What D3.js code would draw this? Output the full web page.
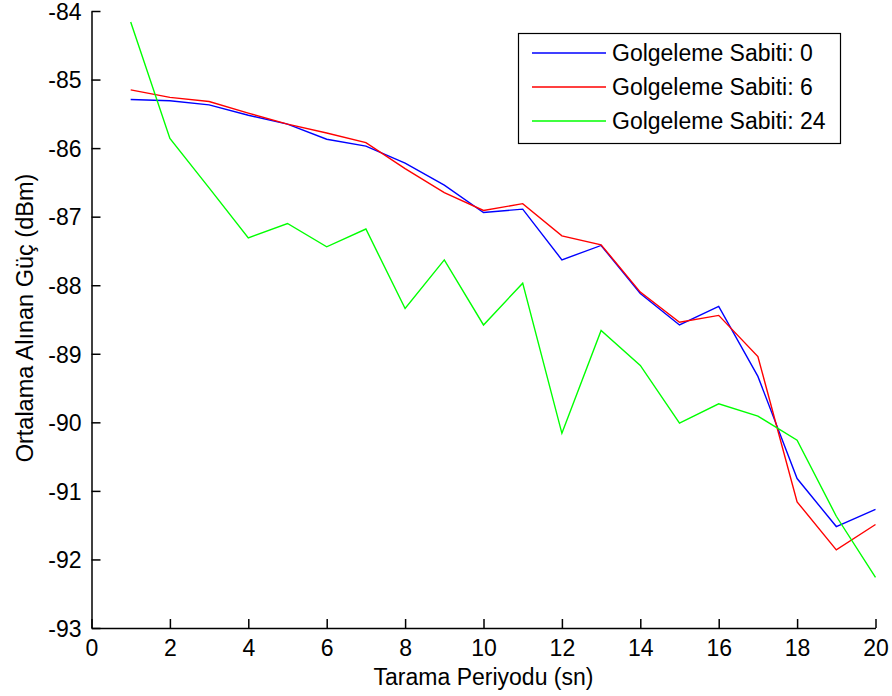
<!DOCTYPE html>
<html>
<head>
<meta charset="utf-8">
<script src="https://cdn.jsdelivr.net/npm/d3@7"></script>
<style>
  body { margin: 0; background: #fff; }
  svg { display: block; }
  text { font-family: "Liberation Sans", Arial, sans-serif; fill: #000; }
</style>
</head>
<body>
<svg id="chart" width="892" height="696"></svg>
<script>
const periods = [1,2,3,4,5,6,7,8,9,10,11,12,13,14,15,16,17,18,19,20];
const seriesNames = ["Golgeleme Sabiti: 0", "Golgeleme Sabiti: 6", "Golgeleme Sabiti: 24"];
const seriesColors = ["#0000ff", "#ff0000", "#00ff00"];
const shadow0 = [-85.29,-85.31,-85.37,-85.52,-85.65,-85.87,-85.97,-86.22,-86.54,-86.94,-86.89,-87.63,-87.42,-88.12,-88.58,-88.31,-89.33,-90.82,-91.52,-91.27];
const shadow6 = [-85.15,-85.26,-85.32,-85.49,-85.65,-85.78,-85.92,-86.30,-86.65,-86.91,-86.81,-87.28,-87.41,-88.10,-88.54,-88.44,-89.04,-91.16,-91.86,-91.49];
const shadow24 = [-84.16,-85.86,-86.58,-87.31,-87.10,-87.44,-87.18,-88.34,-87.63,-88.58,-87.97,-90.16,-88.66,-89.17,-90.01,-89.73,-89.91,-90.26,-91.37,-92.26];
const xTicks = [0,2,4,6,8,10,12,14,16,18,20];
const yTicks = [-84,-85,-86,-87,-88,-89,-90,-91,-92,-93];
const xLabel = "Tarama Periyodu (sn)";
const yLabel = "Ortalama Alınan Güç (dBm)";

const svg = d3.select("#chart");
const mLeft = 91.5, mRight = 875.5, mTop = 11, mBottom = 628;
const x = d3.scaleLinear().domain([0, 20]).range([mLeft, mRight]);
const y = d3.scaleLinear().domain([-93, -84]).range([mBottom, mTop]);
const fmt = d => String(d);

// axes
const xAxis = d3.axisBottom(x).tickValues(xTicks).tickFormat(fmt).tickSizeInner(-9).tickSizeOuter(0).tickPadding(12);
const yAxis = d3.axisLeft(y).tickValues(yTicks).tickFormat(fmt).tickSizeInner(-9).tickSizeOuter(0).tickPadding(10);

const gx = svg.append("g").attr("transform", `translate(0,${mBottom})`).call(xAxis);
const gy = svg.append("g").attr("transform", `translate(${mLeft},0)`).call(yAxis);
[gx, gy].forEach(g => {
  g.select(".domain").attr("stroke", "#000").attr("stroke-width", 1.5);
  g.selectAll(".tick line").attr("stroke", "#000").attr("stroke-width", 1.5);
  g.selectAll(".tick text").style("font-family", '"Liberation Sans", Arial, sans-serif').style("font-size", "23px").attr("fill", "#000");
});
gy.selectAll(".tick text").attr("dy", "0.36em");

// lines
const data = [shadow0, shadow6, shadow24];
const line = d3.line().x((d, i) => x(periods[i])).y(d => y(d));
data.forEach((vals, k) => {
  svg.append("path").datum(vals)
    .attr("fill", "none")
    .attr("stroke", seriesColors[k])
    .attr("stroke-width", 1.4)
    .attr("d", line);
});

// axis labels
svg.append("text").attr("x", (mLeft + mRight) / 2).attr("y", 685)
  .attr("text-anchor", "middle").style("font-size", "23px").text(xLabel);
svg.append("text").attr("transform", `translate(33,318) rotate(-90)`)
  .attr("text-anchor", "middle").style("font-size", "23.5px").text(yLabel);

// legend
const lg = svg.append("g");
lg.append("rect").attr("x", 518.5).attr("y", 33.5).attr("width", 322).attr("height", 110)
  .attr("fill", "#fff").attr("stroke", "#000").attr("stroke-width", 1.2);
seriesNames.forEach((name, k) => {
  const yy = 53 + k * 34;
  lg.append("line").attr("x1", 532).attr("x2", 606).attr("y1", yy).attr("y2", yy)
    .attr("stroke", seriesColors[k]).attr("stroke-width", 1.4);
  lg.append("text").attr("x", 612).attr("y", yy).attr("dy", "0.36em")
    .style("font-size", "23px").text(name);
});
</script>
</body>
</html>
